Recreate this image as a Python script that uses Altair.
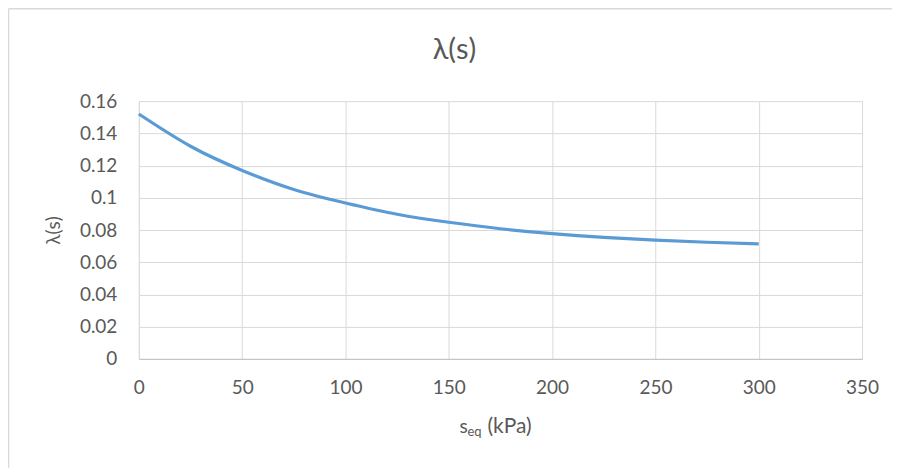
import altair as alt
import pandas as pd

# Data
s_eq = [0, 25, 50, 75, 100, 125, 150, 175, 200, 225, 250, 275, 300]
lam = [0.152, 0.132, 0.117, 0.1052, 0.0968, 0.0898, 0.0848, 0.0808, 0.0777, 0.0754, 0.0737, 0.0724, 0.0714]

y_ticks = [0, 0.02, 0.04, 0.06, 0.08, 0.1, 0.12, 0.14, 0.16]
x_ticks = [0, 50, 100, 150, 200, 250, 300, 350]

df = pd.DataFrame({"s": s_eq, "lam": lam})

FONT = "Lato"
TXT = "#595959"
GRID = "#D9D9D9"

base = alt.Chart(df)

line = base.mark_line(color="#5B9BD5", strokeWidth=3.2, interpolate="natural").encode(
    x=alt.X("s:Q", scale=alt.Scale(domain=[0, 350], nice=False),
            axis=alt.Axis(values=x_ticks, title=None, grid=True, ticks=False, tickSize=0,
                          labelPadding=20, labelFlush=False, domainColor="#BFBFBF",
                          labelExpr="'' + datum.value")),
    y=alt.Y("lam:Q", scale=alt.Scale(domain=[0, 0.16], nice=False),
            axis=alt.Axis(values=y_ticks, title="λ(s)", grid=True, ticks=False, tickSize=0,
                          labelPadding=22, domainColor=GRID, titlePadding=16,
                          labelExpr="'' + datum.value")),
)

# chart title
t_title = alt.Chart(pd.DataFrame({"t": ["λ(s)"]})).mark_text(
    align="center", baseline="alphabetic", font=FONT, fontSize=29, color=TXT
).encode(text="t:N", x=alt.value(316), y=alt.value(-42))

# x-axis title with subscript, built from text pieces
t_s = alt.Chart(pd.DataFrame({"t": ["s"]})).mark_text(
    align="left", baseline="alphabetic", font=FONT, fontSize=19, color=TXT
).encode(text="t:N", x=alt.value(321), y=alt.value(332))
t_eq = alt.Chart(pd.DataFrame({"t": ["eq"]})).mark_text(
    align="left", baseline="alphabetic", font=FONT, fontSize=13, color=TXT
).encode(text="t:N", x=alt.value(329), y=alt.value(335))
t_unit = alt.Chart(pd.DataFrame({"t": ["(kPa)"]})).mark_text(
    align="left", baseline="alphabetic", font=FONT, fontSize=21, color=TXT
).encode(text="t:N", x=alt.value(349), y=alt.value(332))

# chart-area border (left and top edges visible in the reference)
border_l = alt.Chart(pd.DataFrame({"a": [0]})).mark_rule(color=GRID, strokeWidth=1.5).encode(
    x=alt.value(-130.5), y=alt.value(-92.5), y2=alt.value(380))
border_t = alt.Chart(pd.DataFrame({"a": [0]})).mark_rule(color=GRID, strokeWidth=1.5).encode(
    x=alt.value(-130.5), x2=alt.value(780), y=alt.value(-92.5))

chart = alt.layer(line, t_title, t_s, t_eq, t_unit, border_l, border_t).properties(
    width=724,
    height=258,
    background="white",
    autosize=alt.AutoSizeParams(type="none"),
    padding={"left": 131, "top": 93, "right": 30, "bottom": 110},
).configure_axis(
    labelFont=FONT, labelFontSize=19, labelColor=TXT,
    titleFont=FONT, titleFontSize=19, titleColor=TXT, titleFontWeight="normal",
    gridColor=GRID, gridWidth=1,
).configure_view(stroke=None)

chart.save("out.html", embed_options={"renderer": "svg", "actions": False})
